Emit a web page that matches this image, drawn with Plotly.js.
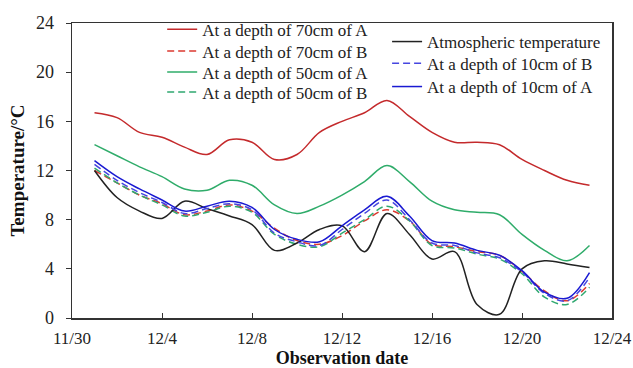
<!DOCTYPE html>
<html>
<head>
<meta charset="utf-8">
<script src="https://cdn.plot.ly/plotly-3.0.1.min.js"></script>
<style>html,body{margin:0;padding:0;background:#fff;}#chart{width:633px;height:368px;}</style>
</head>
<body>
<div id="chart"></div>
<script>
// Days after 11/30 (observation dates 12/1 .. 12/23)
const days = [1,2,3,4,5,6,7,8,9,10,11,12,13,14,15,16,17,18,19,20,21,22,23];
const tickDays = [0,4,8,12,16,20,24];
const tickLabels = ["11/30","12/4","12/8","12/12","12/16","12/20","12/24"];
const yTicks = [0,4,8,12,16,20,24];

const depth70A = [16.7,16.3,15.1,14.7,13.9,13.3,14.5,14.3,12.9,13.3,15.1,16.0,16.7,17.7,16.4,15.1,14.3,14.3,14.1,12.9,12.0,11.2,10.8];
const depth70B = [12.0,11.0,10.0,9.3,8.4,8.7,9.2,8.7,7.3,6.3,6.0,6.7,7.9,8.8,7.9,6.0,5.8,5.4,5.1,3.8,2.2,1.4,2.8];
const depth50A = [14.1,13.2,12.3,11.5,10.5,10.4,11.2,10.8,9.2,8.5,9.1,10.0,11.1,12.4,11.1,9.5,8.8,8.6,8.4,6.8,5.5,4.65,5.9];
const depth50B = [12.2,11.0,10.0,9.2,8.3,8.6,9.1,8.6,6.8,6.0,5.8,6.9,8.0,9.1,7.9,5.9,5.7,5.2,4.8,3.6,1.7,1.1,2.5];
const atmosphere = [12.0,9.8,8.7,8.1,9.5,8.9,8.3,7.6,5.5,6.1,7.2,7.5,5.4,8.5,6.8,4.8,5.4,1.1,0.3,4.0,4.65,4.4,4.1];
const depth10B = [12.5,11.2,10.2,9.4,8.5,8.9,9.3,8.8,6.9,6.2,5.9,7.2,8.5,9.6,8.0,6.1,5.9,5.3,4.9,3.75,2.0,1.4,3.3];
const depth10A = [12.8,11.5,10.5,9.6,8.7,9.1,9.5,9.0,7.2,6.4,6.2,7.5,8.8,9.9,8.3,6.3,6.1,5.5,5.1,3.85,2.1,1.6,3.7];

const names = ["At a depth of 70cm of A","At a depth of 70cm of B","At a depth of 50cm of A","At a depth of 50cm of B",
               "Atmospheric temperature","At a depth of 10cm of B","At a depth of 10cm of A"];

const dashPat = '7px,4px';
function tr(y, name, color, dash, legend) {
  return {x: days, y: y, name: name, type: 'scatter', mode: 'lines', legend: legend,
          line: {color: color, width: 1.5, dash: dash, shape: 'spline', smoothing: 1}};
}
const data = [
  tr(depth70A, names[0], '#c42a2c', 'solid', 'legend'),
  tr(depth70B, names[1], '#db3a30', dashPat, 'legend2'),
  tr(depth50A, names[2], '#2fac6a', 'solid', 'legend3'),
  tr(depth50B, names[3], '#2fa870', dashPat, 'legend4'),
  tr(atmosphere, names[4], '#222222', 'solid', 'legend5'),
  tr(depth10B, names[5], '#4646e0', dashPat, 'legend6'),
  tr(depth10A, names[6], '#1a1ad2', 'solid', 'legend7')
];

const serif = "Liberation Serif";
function leg(x, y) {
  return {bgcolor: 'rgba(0,0,0,0)', borderwidth: 0, font: {family: serif, size: 17, color: '#222'},
    xanchor: 'left', yanchor: 'top', itemwidth: 30, x: x, y: y};
}

const layout = {
  width: 633, height: 368,
  margin: {l: 72, r: 21, t: 19, b: 50},
  paper_bgcolor: '#fff', plot_bgcolor: '#fff',
  font: {family: serif, color: '#222'},
  showlegend: true,
  legend: leg(0.167, 1.0385),
  legend2: leg(0.167, 0.9649),
  legend3: leg(0.167, 0.8930),
  legend4: leg(0.167, 0.8260),
  legend5: leg(0.5835, 0.9966),
  legend6: leg(0.5835, 0.9231),
  legend7: leg(0.5835, 0.8441),
  xaxis: {
    range: [0, 24], tickvals: tickDays, ticktext: tickLabels,
    showgrid: false, zeroline: false,
    showline: true, linecolor: '#333', linewidth: 1.5, mirror: true,
    ticks: 'inside', ticklen: 5, tickcolor: '#333',
    tickfont: {family: serif, size: 17, color: '#222'},
    ticklabelstandoff: 4,
    title: {text: '<b>Observation date</b>', font: {family: serif, size: 18, color: '#111'}}
  },
  yaxis: {
    range: [0, 24], tickvals: yTicks,
    showgrid: false, zeroline: false,
    showline: true, linecolor: '#333', linewidth: 1.5, mirror: true,
    ticks: 'outside', ticklen: 5, tickcolor: '#333',
    tickfont: {family: serif, size: 18, color: '#222'},
    ticklabelstandoff: 8,
    title: {text: '<b>Temperature/°C</b>', font: {family: serif, size: 19, color: '#111'}}
  }
};

Plotly.newPlot('chart', data, layout, {displayModeBar: false, staticPlot: true});
</script>
</body>
</html>
